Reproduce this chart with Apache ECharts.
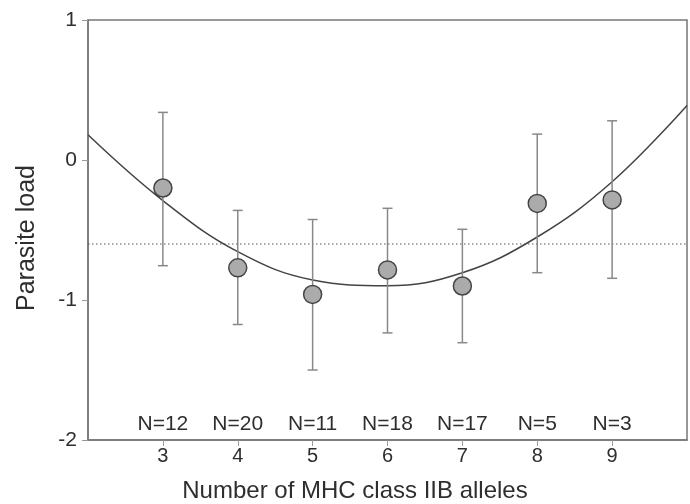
<!DOCTYPE html>
<html>
<head>
<meta charset="utf-8">
<script src="https://cdn.jsdelivr.net/npm/echarts@6/dist/echarts.min.js"></script>
<style>
  html, body { margin: 0; padding: 0; background: #fff; }
  #chart { width: 690px; height: 504px; }
</style>
</head>
<body>
<div id="chart"></div>
<script>
// Number of MHC class IIB alleles per individual
const alleles = [3, 4, 5, 6, 7, 8, 9];
// Mean parasite load and the ends of its error bars
const meanLoad = [-0.2, -0.77, -0.96, -0.785, -0.9, -0.31, -0.285];
const upperLoad = [0.34, -0.36, -0.425, -0.345, -0.495, 0.185, 0.28];
const lowerLoad = [-0.755, -1.175, -1.5, -1.235, -1.305, -0.805, -0.845];
// Sample sizes per allele class
const sampleSizes = [12, 20, 11, 18, 17, 5, 3];
// Fitted quadratic, sampled along the allele axis
const fitX = [2, 3, 4, 5, 6, 7, 8, 9, 10];
const fitY = [0.18, -0.29, -0.655, -0.857, -0.898, -0.805, -0.55, -0.155, 0.39];
// Overall population mean
const overallMean = -0.6;
// Tick labels
const xTicks = [3, 4, 5, 6, 7, 8, 9];
const yTicks = [-2, -1, 0, 1];
const nLabelLevel = -1.89;

const chart = echarts.init(document.getElementById('chart'), null, { renderer: 'canvas' });

const textColor = '#2e2e2e';
const axisColor = '#777';
const fontFamily = '"Liberation Sans", Arial, sans-serif';

chart.setOption({
  animation: false,
  backgroundColor: '#fff',
  grid: {
    left: 88, right: 3, top: 20, bottom: 64,
    show: true, borderColor: axisColor, borderWidth: 1.5, backgroundColor: 'transparent'
  },
  xAxis: {
    type: 'value', min: 2, max: 10, interval: 1,
    axisLine: { show: true, onZero: false, lineStyle: { color: axisColor, width: 1.5 } },
    axisTick: { show: true, length: 6, inside: false, customValues: xTicks, lineStyle: { color: '#999', width: 1 } },
    axisLabel: {
      customValues: xTicks, margin: 6,
      color: textColor, fontFamily: fontFamily, fontSize: 20
    },
    splitLine: { show: false }
  },
  yAxis: {
    type: 'value', min: -2, max: 1, interval: 1,
    axisLine: { show: true, onZero: false, lineStyle: { color: axisColor, width: 1.5 } },
    axisTick: { show: true, length: 6, customValues: yTicks, lineStyle: { color: '#999', width: 1 } },
    axisLabel: {
      customValues: yTicks, margin: 11,
      color: textColor, fontFamily: fontFamily, fontSize: 21
    },
    splitLine: { show: false }
  },
  graphic: [
    {
      type: 'text', x: 355, y: 491,
      style: {
        text: 'Number of MHC class IIB alleles',
        font: '24px ' + fontFamily,
        fill: textColor, align: 'center', verticalAlign: 'middle'
      }
    },
    {
      type: 'text', x: 27, y: 238, rotation: Math.PI / 2,
      style: {
        text: 'Parasite load',
        font: '25px ' + fontFamily,
        fill: textColor, align: 'center', verticalAlign: 'middle'
      }
    }
  ],
  series: [
    {
      name: 'Mean',
      type: 'line',
      data: [[2, overallMean], [10, overallMean]],
      symbol: 'none',
      lineStyle: { color: '#555', width: 1, type: [1.5, 2.5] },
      z: 1
    },
    {
      name: 'Fit',
      type: 'line',
      data: fitX.map((x, i) => [x, fitY[i]]),
      smooth: 0.4,
      symbol: 'none',
      lineStyle: { color: '#444', width: 1.5 },
      z: 2
    },
    {
      name: 'Error',
      type: 'custom',
      data: alleles.map((x, i) => [x, lowerLoad[i], upperLoad[i]]),
      renderItem: function (params, api) {
        const x = api.value(0);
        const lo = api.coord([x, api.value(1)]);
        const hi = api.coord([x, api.value(2)]);
        const cap = 5;
        const style = { stroke: '#888', lineWidth: 1.5 };
        return {
          type: 'group',
          children: [
            { type: 'line', shape: { x1: lo[0], y1: lo[1], x2: hi[0], y2: hi[1] }, style },
            { type: 'line', shape: { x1: hi[0] - cap, y1: hi[1], x2: hi[0] + cap, y2: hi[1] }, style },
            { type: 'line', shape: { x1: lo[0] - cap, y1: lo[1], x2: lo[0] + cap, y2: lo[1] }, style }
          ]
        };
      },
      z: 3
    },
    {
      name: 'Load',
      type: 'scatter',
      data: alleles.map((x, i) => [x, meanLoad[i]]),
      symbol: 'circle',
      symbolSize: 18,
      itemStyle: { color: '#ababab', borderColor: '#444', borderWidth: 1.5, opacity: 1 },
      z: 4
    },
    {
      name: 'N',
      type: 'scatter',
      data: alleles.map((x, i) => [x, nLabelLevel]),
      symbolSize: 0,
      itemStyle: { opacity: 1 },
      label: {
        show: true, position: 'inside',
        formatter: p => 'N=' + sampleSizes[p.dataIndex],
        color: textColor, fontFamily: fontFamily, fontSize: 21
      },
      z: 5
    }
  ]
});
</script>
</body>
</html>
